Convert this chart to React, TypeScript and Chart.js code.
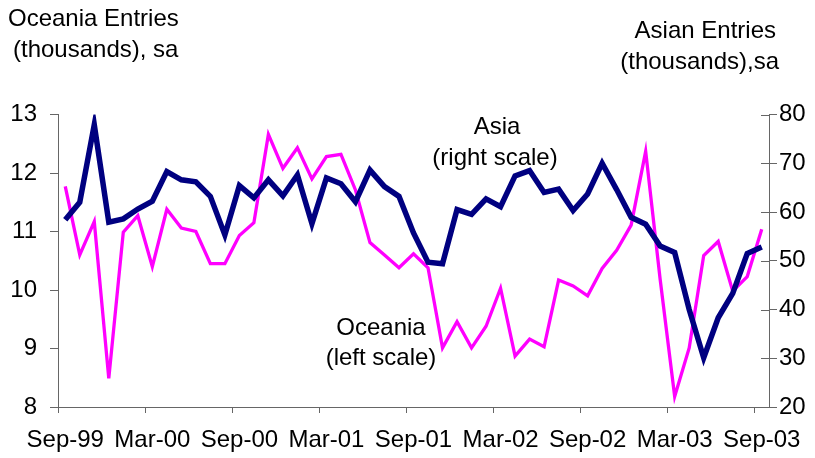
import React, { useEffect, useRef } from "react";
import { Chart, registerables } from "chart.js";

Chart.register(...registerables);

const months: string[] = [
  "Sep-99", "Oct-99", "Nov-99", "Dec-99", "Jan-00", "Feb-00",
  "Mar-00", "Apr-00", "May-00", "Jun-00", "Jul-00", "Aug-00",
  "Sep-00", "Oct-00", "Nov-00", "Dec-00", "Jan-01", "Feb-01",
  "Mar-01", "Apr-01", "May-01", "Jun-01", "Jul-01", "Aug-01",
  "Sep-01", "Oct-01", "Nov-01", "Dec-01", "Jan-02", "Feb-02",
  "Mar-02", "Apr-02", "May-02", "Jun-02", "Jul-02", "Aug-02",
  "Sep-02", "Oct-02", "Nov-02", "Dec-02", "Jan-03", "Feb-03",
  "Mar-03", "Apr-03", "May-03", "Jun-03", "Jul-03", "Aug-03",
  "Sep-03",
];

const shownLabels: string[] = [
  "Sep-99", "Mar-00", "Sep-00", "Mar-01", "Sep-01", "Mar-02", "Sep-02", "Mar-03", "Sep-03",
];

const oceania: number[] = [
  11.77, 10.6, 11.17, 8.49, 10.99, 11.27, 10.4, 11.38, 11.06, 11.0, 10.45, 10.45,
  10.93, 11.15, 12.66, 12.08, 12.43, 11.9, 12.28, 12.32, 11.71, 10.81, 10.6, 10.38,
  10.62, 10.38, 9.01, 9.46, 9.01, 9.38, 10.03, 8.87, 9.16, 9.03, 10.17, 10.07,
  9.9, 10.37, 10.68, 11.11, 12.37, 10.18, 8.18, 9.01, 10.59, 10.83, 9.98, 10.23,
  11.04,
];

const asia: number[] = [
  58.4, 62.0, 77.9, 57.9, 58.6, 60.6, 62.2, 68.3, 66.6, 66.2, 63.2, 55.3,
  65.4, 62.9, 66.6, 63.3, 67.6, 57.6, 67.0, 65.8, 62.1, 68.6, 65.2, 63.2,
  55.7, 49.7, 49.4, 60.5, 59.5, 62.7, 61.1, 67.4, 68.5, 64.0, 64.7, 60.3,
  63.7, 70.0, 64.6, 58.9, 57.5, 53.0, 51.7, 40.0, 30.1, 38.3, 43.3, 51.5,
  52.8,
];

const leftTicks: number[] = [8, 9, 10, 11, 12, 13];
const rightTicks: number[] = [20, 30, 40, 50, 60, 70, 80];

const FONT_FAMILY = '"Liberation Sans", Arial, sans-serif';
const AXIS_COLOR = "#666666";

const textPlugin = {
  id: "texts",
  afterDraw(chart: any) {
    const ctx = chart.ctx;
    ctx.save();
    ctx.fillStyle = "#000";
    ctx.font = `24px ${FONT_FAMILY}`;
    ctx.textBaseline = "middle";
    ctx.textAlign = "left";
    ctx.fillText("Oceania Entries", 8, 19);
    ctx.fillText("(thousands), sa", 13, 50);
    ctx.textAlign = "right";
    ctx.fillText("Asian Entries", 776, 31);
    ctx.fillText("(thousands),sa", 779, 62);
    ctx.textAlign = "center";
    ctx.fillText("Asia", 497, 127);
    ctx.fillText("(right scale)", 495, 158);
    ctx.fillText("Oceania", 381, 328);
    ctx.fillText("(left scale)", 381, 358);

    // inner half of the right-axis cross tick marks
    const s = chart.scales.y1;
    ctx.strokeStyle = AXIS_COLOR;
    ctx.lineWidth = 1;
    for (const v of rightTicks) {
      const y = Math.round(s.getPixelForValue(v)) + 0.5;
      ctx.beginPath();
      ctx.moveTo(s.left - 8, y);
      ctx.lineTo(s.left, y);
      ctx.stroke();
    }
    ctx.restore();
  },
};

export default function App() {
  const ref = useRef<HTMLCanvasElement | null>(null);

  useEffect(() => {
    if (!ref.current) return;
    const chart = new Chart(ref.current, {
      type: "line",
      data: {
        labels: months,
        datasets: [
          {
            label: "Asia",
            data: asia,
            yAxisID: "y1",
            borderColor: "#000080",
            backgroundColor: "#000080",
            borderWidth: 5.5,
            pointRadius: 0,
            tension: 0,
            fill: false,
          },
          {
            label: "Oceania",
            data: oceania,
            yAxisID: "y",
            borderColor: "#FF00FF",
            backgroundColor: "#FF00FF",
            borderWidth: 3.3,
            pointRadius: 0,
            tension: 0,
            fill: false,
          },
        ],
      },
      options: {
        responsive: false,
        animation: false,
        events: [],
        layout: { padding: { top: 114.5, left: 0, right: 0, bottom: 0 } },
        plugins: {
          legend: { display: false },
          tooltip: { enabled: false },
          title: { display: false },
        },
        scales: {
          x: {
            type: "category",
            offset: true,
            grid: {
              offset: true,
              drawOnChartArea: false,
              drawTicks: true,
              tickLength: 6,
              tickColor: (c: any) => (c.index % 6 === 0 ? AXIS_COLOR : "rgba(0,0,0,0)"),
              color: "rgba(0,0,0,0)",
            },
            border: { display: true, color: AXIS_COLOR, width: 1 },
            ticks: {
              autoSkip: false,
              maxRotation: 0,
              minRotation: 0,
              padding: 13,
              color: "#000",
              font: { family: FONT_FAMILY, size: 24 },
              callback: (_v: any, i: number) => {
                const lbl = months[i];
                return shownLabels.includes(lbl) && i % 6 === 0 ? lbl : "";
              },
            },
            afterFit: (s: any) => {
              s.height = 51;
            },
          },
          y: {
            type: "linear",
            position: "left",
            min: 8,
            max: 13,
            afterBuildTicks: (s: any) => {
              s.ticks = leftTicks.map((v) => ({ value: v }));
            },
            grid: {
              drawOnChartArea: false,
              drawTicks: true,
              tickLength: 8,
              tickColor: AXIS_COLOR,
            },
            border: { display: true, color: AXIS_COLOR, width: 1 },
            ticks: {
              padding: 13,
              color: "#000",
              font: { family: FONT_FAMILY, size: 24 },
            },
            afterFit: (s: any) => {
              s.width = 58;
            },
          },
          y1: {
            type: "linear",
            position: "right",
            min: 20,
            max: 80,
            afterBuildTicks: (s: any) => {
              s.ticks = rightTicks.map((v) => ({ value: v }));
            },
            grid: {
              drawOnChartArea: false,
              drawTicks: true,
              tickLength: 8,
              tickColor: AXIS_COLOR,
            },
            border: { display: true, color: AXIS_COLOR, width: 1 },
            ticks: {
              padding: 2,
              color: "#000",
              font: { family: FONT_FAMILY, size: 24 },
            },
            afterFit: (s: any) => {
              s.width = 46;
            },
          },
        },
      },
      plugins: [textPlugin],
    });
    return () => chart.destroy();
  }, []);

  return (
    <div style={{ position: "absolute", left: 0, top: 0, width: 815, height: 458 }}>
      <canvas ref={ref} width={815} height={458} style={{ width: 815, height: 458 }} />
    </div>
  );
}
